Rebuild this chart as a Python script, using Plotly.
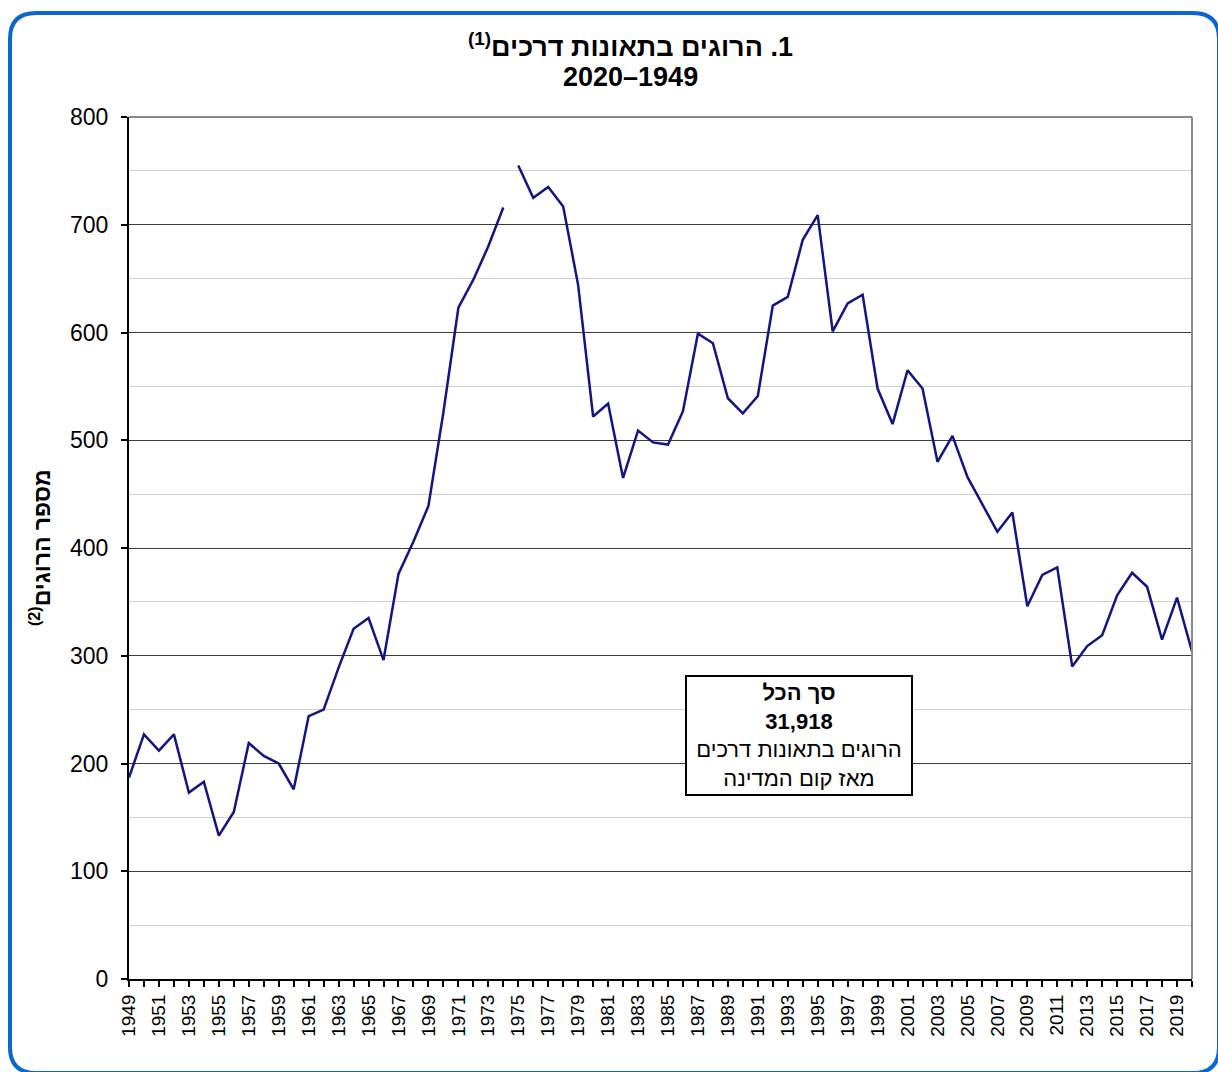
import plotly.graph_objects as go

# ---------------- data ----------------
years_a = list(range(1949, 1975))
deaths_a = [187, 227, 212, 227, 173, 183, 133, 155, 219, 207, 200, 176, 244,
            250, 289, 325, 335, 296, 376, 406, 439, 526, 623, 649, 680, 716]
years_b = list(range(1975, 2021))
deaths_b = [755, 725, 735, 717, 644, 522, 534, 465, 509, 498, 496, 527, 599,
            590, 539, 525, 541, 625, 633, 686, 709, 601, 627, 635, 548, 515,
            565, 548, 480, 504, 466, 440, 415, 433, 346, 375, 382, 290, 309,
            319, 356, 377, 364, 315, 354, 304]

x_labeled_years = list(range(1949, 2021, 2))
x_ticktext = [str(y) for y in x_labeled_years]
y_tickvals = [0, 100, 200, 300, 400, 500, 600, 700, 800]

title_line1 = "1. הרוגים בתאונות דרכים<sup>(1)</sup>"
title_line2 = "2020–1949"
y_title = "מספר הרוגים<sup>(2)</sup>"
box_lines = ["<b>סך הכל</b>", "<b>31,918</b>", "הרוגים בתאונות דרכים", "מאז קום המדינה"]

RLE, PDF = "\u202b", "\u202c"

# ---------------- layout geometry ----------------
W, H = 1218, 1072
L, R, T, B = 129, 1192, 117, 979  # plot area in pixels


def px(x):
    return (x - L) / (R - L)


def py(y):
    return (B - y) / (B - T)


FONT = "Liberation Sans, Arial, sans-serif"
LINE_COLOR = "#141482"

fig = go.Figure()
fig.add_trace(go.Scatter(x=years_a, y=deaths_a, mode="lines",
                         line=dict(color=LINE_COLOR, width=2.5), showlegend=False,
                         hoverinfo="x+y"))
fig.add_trace(go.Scatter(x=years_b, y=deaths_b, mode="lines",
                         line=dict(color=LINE_COLOR, width=2.5), showlegend=False,
                         hoverinfo="x+y"))

# rounded blue frame (right and bottom edges fall just outside the picture)
fl, fr, ft, fb, rad = 10, 1219, 13, 1073, 26
path = (f"M {px(fl + rad)},{py(ft)} L {px(fr - rad)},{py(ft)} "
        f"Q {px(fr)},{py(ft)} {px(fr)},{py(ft + rad)} "
        f"L {px(fr)},{py(fb - rad)} Q {px(fr)},{py(fb)} {px(fr - rad)},{py(fb)} "
        f"L {px(fl + rad)},{py(fb)} Q {px(fl)},{py(fb)} {px(fl)},{py(fb - rad)} "
        f"L {px(fl)},{py(ft + rad)} Q {px(fl)},{py(ft)} {px(fl + rad)},{py(ft)} Z")

shapes = [
    dict(type="path", xref="paper", yref="paper", path=path,
         line=dict(color="#0b66d0", width=4), layer="above"),
    dict(type="line", xref="paper", yref="paper", x0=0, x1=1, y0=1, y1=1,
         line=dict(color="#8a8a8a", width=2)),
    dict(type="line", xref="paper", yref="paper", x0=1, x1=1, y0=0, y1=1,
         line=dict(color="#8a8a8a", width=2)),
]

annotations = [
    dict(text="<b>" + RLE + title_line1 + PDF + "</b>", xref="paper", yref="paper",
         x=px(630), y=py(45), showarrow=False, xanchor="center", yanchor="middle",
         font=dict(family=FONT, size=27, color="black")),
    dict(text="<b>" + title_line2 + "</b>", xref="paper", yref="paper",
         x=px(630), y=py(77), showarrow=False, xanchor="center", yanchor="middle",
         font=dict(family=FONT, size=27, color="black")),
    dict(text="<b>" + RLE + y_title + PDF + "</b>", xref="paper", yref="paper",
         x=px(40), y=py(548), showarrow=False, xanchor="center", yanchor="middle",
         textangle=-90, font=dict(family=FONT, size=23, color="black")),
    dict(text="<br>".join(box_lines), xref="paper", yref="paper",
         x=px(799), y=py(735.5), showarrow=False, xanchor="center", yanchor="middle",
         font=dict(family=FONT, size=22, color="black"),
         bordercolor="black", borderwidth=2, borderpad=2, bgcolor="white",
         width=220, height=113, align="center"),
]

fig.update_layout(
    width=W, height=H,
    margin=dict(l=L, r=W - R, t=T, b=H - B, pad=0),
    paper_bgcolor="white", plot_bgcolor="white",
    font=dict(family=FONT, color="black"),
    shapes=shapes, annotations=annotations,
    xaxis=dict(range=[1949, 2020], tickmode="array", tickvals=x_labeled_years,
               ticktext=x_ticktext, tickangle=-90, ticks="outside", ticklen=6,
               tickwidth=2, tickcolor="black", showline=True, linecolor="black",
               linewidth=2, showgrid=False, zeroline=False,
               tickfont=dict(family=FONT, size=19, color="black"),
               minor=dict(tick0=1949, dtick=1, ticks="outside", ticklen=6,
                          tickwidth=2, tickcolor="black", showgrid=False)),
    yaxis=dict(range=[0, 800], tickmode="array", tickvals=y_tickvals,
               ticks="outside", ticklen=6, tickwidth=2, tickcolor="black",
               ticklabelstandoff=8,
               showline=True, linecolor="black", linewidth=2,
               showgrid=True, gridcolor="#3c3c3c", gridwidth=1.3, zeroline=False,
               tickfont=dict(family=FONT, size=23, color="black"),
               minor=dict(dtick=50, tick0=0, showgrid=True, gridcolor="#d2d2d2",
                          gridwidth=1, ticks="")),
)

fig.write_html("out.html", config={"displayModeBar": False},
               post_script="document.body.style.margin='0px';document.body.style.overflow='hidden';")
